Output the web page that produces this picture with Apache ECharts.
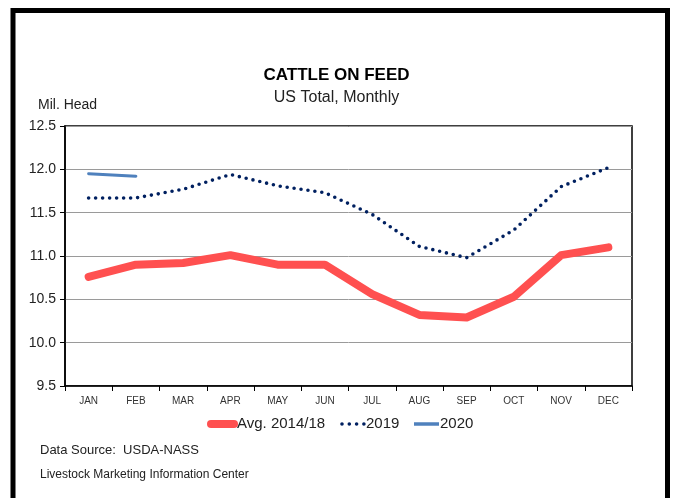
<!DOCTYPE html>
<html><head><meta charset="utf-8">
<script src="https://cdn.jsdelivr.net/npm/echarts@6/dist/echarts.min.js"></script>
<style>html,body{margin:0;padding:0;background:#fff}#c{width:673px;height:498px}</style>
</head><body><div id="c"></div>
<script>
const months = ['JAN','FEB','MAR','APR','MAY','JUN','JUL','AUG','SEP','OCT','NOV','DEC'];
const avg1418 = [10.76, 10.90, 10.92, 11.01, 10.90, 10.90, 10.56, 10.32, 10.29, 10.53, 11.01, 11.10];
const y2019 = [11.67, 11.67, 11.77, 11.94, 11.81, 11.73, 11.48, 11.11, 10.98, 11.30, 11.80, 12.02];
const y2020 = [11.95, 11.92];
const seriesNames = ['Avg. 2014/18','2019','2020'];

const F = '"Liberation Sans",Arial,sans-serif';
const RED = '#FF5050', NAVY = '#002060', BLUE = '#4F81BD';
const LY = 424;
const chart = echarts.init(document.getElementById('c'), null, {renderer:'canvas'});
chart.setOption({
  animation:false,
  backgroundColor:'#fff',
  title:[
    {text:'CATTLE ON FEED', left:'center', top:62, textStyle:{fontFamily:F, fontSize:17, fontWeight:'bold', color:'#000'}},
    {text:'US Total, Monthly', left:'center', top:85, textStyle:{fontFamily:F, fontSize:16, fontWeight:'normal', color:'#222'}}
  ],
  graphic:[
    {type:'rect', shape:{x:13, y:10.5, width:654.5, height:500}, style:{fill:null, stroke:'#000', lineWidth:5}},
    {type:'text', left:38, top:98, style:{text:'Mil. Head', font:'14px '+F, fill:'#222'}},
    {type:'text', left:40, top:444, style:{text:'Data Source:  USDA-NASS', font:'13px '+F, fill:'#222'}},
    {type:'text', left:40, top:469, style:{text:'Livestock Marketing Information Center', font:'12px '+F, fill:'#222'}},
    // legend
    {type:'line', shape:{x1:211, y1:LY, x2:234, y2:LY}, style:{stroke:RED, lineWidth:8, lineCap:'round'}},
    {type:'text', x:237, y:LY, style:{text:seriesNames[0], font:'15px '+F, fill:'#222', textVerticalAlign:'middle'}},
    {type:'line', shape:{x1:342, y1:LY, x2:364, y2:LY}, style:{stroke:NAVY, lineWidth:3.6, lineCap:'round', lineDash:[0,7.3]}},
    {type:'text', x:366, y:LY, style:{text:seriesNames[1], font:'15px '+F, fill:'#222', textVerticalAlign:'middle'}},
    {type:'line', shape:{x1:414, y1:LY, x2:439, y2:LY}, style:{stroke:BLUE, lineWidth:3.5}},
    {type:'text', x:440, y:LY, style:{text:seriesNames[2], font:'15px '+F, fill:'#222', textVerticalAlign:'middle'}}
  ],
  grid:{left:65, right:41, top:126, bottom:112, show:true, borderColor:'#000', borderWidth:1.5},
  xAxis:{
    type:'category', data:months, boundaryGap:true,
    axisLine:{lineStyle:{color:'#000', width:1.5}},
    axisTick:{show:true, length:5, inside:false, lineStyle:{color:'#000'}},
    axisLabel:{fontFamily:F, fontSize:10, color:'#333', margin:10}
  },
  yAxis:{
    type:'value', min:9.5, max:12.5, interval:0.5,
    axisLine:{show:true, lineStyle:{color:'#000', width:1.5}},
    axisTick:{show:true, length:5, lineStyle:{color:'#000'}},
    axisLabel:{fontFamily:F, fontSize:14, color:'#222', margin:9, formatter:(v)=>v.toFixed(1)},
    splitLine:{lineStyle:{color:'#9a9a9a', width:1}}
  },
  series:[
    {name:seriesNames[0], type:'line', data:avg1418, symbol:'none', color:RED,
     lineStyle:{color:RED, width:8, cap:'round', join:'round'}, z:3},
    {name:seriesNames[1], type:'line', data:y2019, symbol:'none', color:NAVY,
     lineStyle:{color:NAVY, width:3.6, type:[0,7], cap:'round'}, z:4},
    {name:seriesNames[2], type:'line', data:y2020, symbol:'none', color:BLUE,
     lineStyle:{color:BLUE, width:3, cap:'round'}, z:5}
  ]
});
</script></body></html>
